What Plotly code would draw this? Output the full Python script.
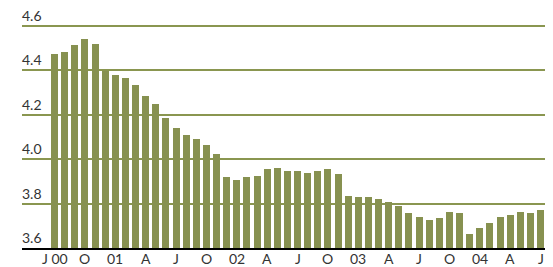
import plotly.graph_objects as go

months = list(range(49))  # Jul 2000 .. Jul 2004
values = [4.474, 4.483, 4.514, 4.541, 4.520, 4.397, 4.379, 4.366, 4.334, 4.285,
          4.249, 4.186, 4.141, 4.110, 4.091, 4.064, 4.023, 3.920, 3.906, 3.920,
          3.924, 3.956, 3.960, 3.947, 3.947, 3.938, 3.947, 3.956, 3.933, 3.834,
          3.830, 3.830, 3.821, 3.807, 3.789, 3.758, 3.740, 3.726, 3.735, 3.762,
          3.758, 3.663, 3.690, 3.713, 3.740, 3.749, 3.762, 3.758, 3.771]
tick_pos = [0, 3, 6, 9, 12, 15, 18, 21, 24, 27, 30, 33, 36, 39, 42, 45, 48]
tick_text = ["J 00", "O", "01", "A", "J", "O", "02", "A", "J", "O", "03", "A", "J", "O", "04", "A", "J"]
y_ticks = [3.6, 3.8, 4.0, 4.2, 4.4, 4.6]

FONT = dict(family="Lato", size=14, color="#333333")

fig = go.Figure(go.Bar(x=months, y=values, marker_color="#879150",
                       marker_line_width=0, width=0.69))

annotations = []
for p, t in zip(tick_pos, tick_text):
    annotations.append(dict(x=p, y=-0.045, xref="x", yref="paper", text=t,
                            showarrow=False, xanchor="center", yanchor="middle",
                            font=FONT))
for v in y_ticks:
    annotations.append(dict(x=0, y=v, xref="paper", yref="y", text=f"{v:.1f}",
                            showarrow=False, xanchor="left", yanchor="bottom",
                            xshift=-2, font=FONT))

# page body has an 8px default margin, so the figure is sized to fit the window
fig.update_layout(
    width=545, height=259,
    margin=dict(l=14, r=0, t=0, b=19),
    paper_bgcolor="white", plot_bgcolor="white",
    showlegend=False,
    font=FONT,
    bargap=0,
    annotations=annotations,
)
fig.update_xaxes(range=[-3.21, 49.23], showticklabels=False, showgrid=False,
                 ticks="", showline=True, linecolor="black", linewidth=2,
                 zeroline=False)
fig.update_yaxes(range=[3.6, 4.68], tickmode="array", tickvals=y_ticks,
                 showticklabels=False, showgrid=True,
                 gridcolor="#8a9650", gridwidth=1.5, zeroline=False, ticks="")
fig.write_html("out.html")
